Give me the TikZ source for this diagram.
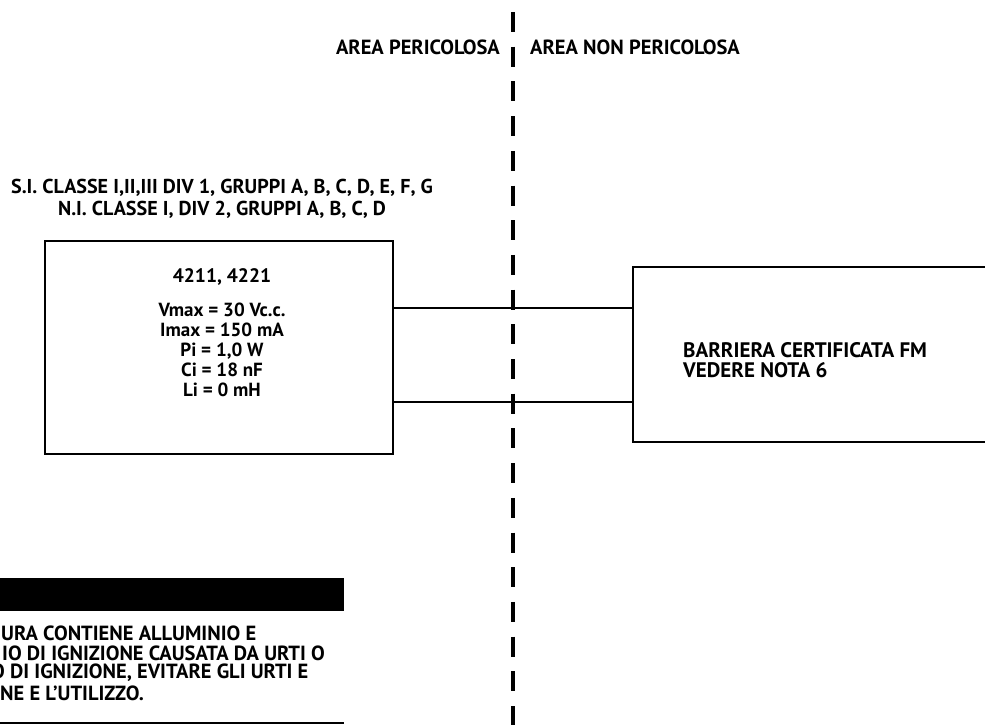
\documentclass[tikz,border=0pt]{standalone}
\usepackage{fontspec}
\setmainfont{PT Sans}
\usetikzlibrary{positioning}
\tikzstyle{unit} = [rectangle, draw, line width=1.3pt, inner sep=0pt]
\tikzstyle{txt} = [font=\bfseries\fontsize{19}{20}\selectfont, inner sep=0pt]
\tikzstyle{bigtxt} = [font=\bfseries\fontsize{20.5}{20}\selectfont, inner sep=0pt]
\tikzstyle{warntxt} = [font=\bfseries\fontsize{20.5}{20}\selectfont, inner sep=0pt, anchor=west]
\tikzstyle{wire} = [line width=1.3pt]
\tikzstyle{divider} = [line width=3.5pt, dash pattern=on 20pt off 14.7pt]

\begin{document}
\begin{tikzpicture}[x=1pt, y=-1pt]
\useasboundingbox (0,0) rectangle (985,724);
% boundary between the two areas
\coordinate (divtop) at (513,12);
\coordinate (divbot) at (513,740);
\draw[divider] (divtop) -- (divbot);
\node (haz) [bigtxt, anchor=east] at (500,47) {AREA PERICOLOSA};
\node (nonhaz) [bigtxt, anchor=west] at (530,47) {AREA NON PERICOLOSA};

\node (classes) [txt, align=center, font=\bfseries\fontsize{20.1}{22}\selectfont] at (222,199) {S.I. CLASSE I,II,III DIV 1, GRUPPI A, B, C, D, E, F, G\\N.I. CLASSE I, DIV 2, GRUPPI A, B, C, D};

\node (transmitter) [unit, minimum width=348pt, minimum height=213pt] at (219,347.5) {};
\node (model) [txt, font=\bfseries\fontsize{19.5}{20}\selectfont] at (222,277) {4211, 4221};
\node (ratings) [txt, align=center] at (222,350) {Vmax = 30 Vc.c.\\Imax = 150 mA\\Pi = 1,0 W\\Ci = 18 nF\\Li = 0 mH};

\node (barrier) [unit, minimum width=370pt, minimum height=175pt] at (818,354.5) {};
\node (barriertxt) [bigtxt, align=left, anchor=west, font=\bfseries\fontsize{21}{20}\selectfont] at (683,360) {BARRIERA CERTIFICATA FM\\VEDERE NOTA 6};

\coordinate (w1) at (0,308);
\coordinate (w2) at (0,402);
\draw[wire] (transmitter.east |- w1) -- (barrier.west |- w1);
\draw[wire] (transmitter.east |- w2) -- (barrier.west |- w2);

% warning
\fill (-5,578) rectangle (344,611);
\node (warn1) [warntxt] at (1,633) {URA CONTIENE ALLUMINIO E};
\node (warn2) [warntxt] at (2,653) {IO DI IGNIZIONE CAUSATA DA URTI O};
\node (warn3) [warntxt] at (-9,673) {O DI IGNIZIONE, EVITARE GLI URTI E};
\node (warn4) [warntxt] at (0,693) {NE E L'UTILIZZO.};
\draw[wire] (-5,723) -- (344,723);
\end{tikzpicture}
\end{document}
